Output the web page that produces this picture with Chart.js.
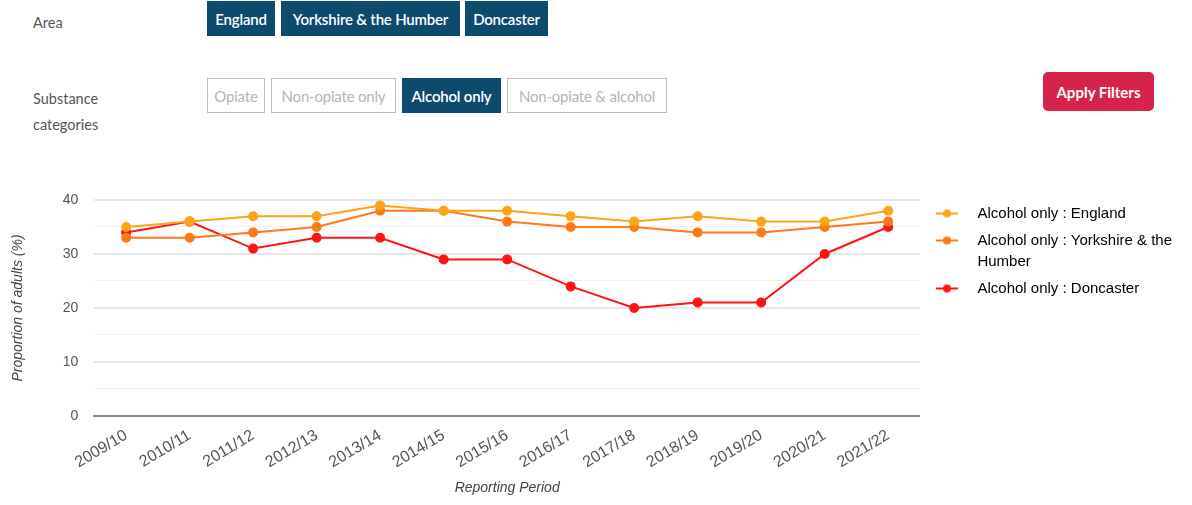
<!DOCTYPE html>
<html lang="en">
<head>
  <meta charset="UTF-8">
  <title>Alcohol only</title>
  <script src="https://cdn.jsdelivr.net/npm/chart.js"></script>
  <style>
    body { margin: 0; width: 1192px; height: 505px; overflow: hidden; background: #fff; font-family: Lato, "Open Sans", sans-serif; position: relative; }
    .lbl { position: absolute; left: 33px; color: #555; font-size: 14.5px; line-height: 26px; }
    .btn { position: absolute; height: 35px; box-sizing: border-box; font-size: 15px; display: flex; align-items: center; justify-content: center; letter-spacing: -0.2px; }
    .on { background: #0d4a6c; color: #fff; font-weight: 600; }
    .off { background: #fff; color: #b5b5b5; border: 1px solid #bdbdbd; }
    .apply { position: absolute; left: 1043px; top: 72px; width: 111px; height: 39px; background: #d6234b; color: #fff; border-radius: 5px; font-weight: 700; font-size: 15px; display: flex; align-items: center; justify-content: center; }
    #wrap { position: absolute; left: 0; top: 160px; width: 1205px; height: 345px; }
  </style>
</head>
<body>
  <!-- Filters -->
  <div class="lbl" style="top:10px">Area</div>
  <div class="btn on" style="left:207px;top:1px;width:68px">England</div>
  <div class="btn on" style="left:281px;top:1px;width:179px">Yorkshire &amp; the Humber</div>
  <div class="btn on" style="left:465px;top:1px;width:83px">Doncaster</div>

  <div class="lbl" style="top:86px">Substance<br>categories</div>
  <div class="btn off" style="left:207px;top:78px;width:58px">Opiate</div>
  <div class="btn off" style="left:271px;top:78px;width:125px">Non-opiate only</div>
  <div class="btn on" style="left:402px;top:78px;width:99px">Alcohol only</div>
  <div class="btn off" style="left:507px;top:78px;width:160px">Non-opiate &amp; alcohol</div>
  <div class="apply">Apply Filters</div>

  <div id="wrap"><canvas id="chart"></canvas></div>

  <script>
    const periods = ['2009/10', '2010/11', '2011/12', '2012/13', '2013/14', '2014/15', '2015/16',
      '2016/17', '2017/18', '2018/19', '2019/20', '2020/21', '2021/22'];
    const england = [35, 36, 37, 37, 39, 38, 38, 37, 36, 37, 36, 36, 38];
    const yorkshire = [33, 33, 34, 35, 38, 38, 36, 35, 35, 34, 34, 35, 36];
    const doncaster = [34, 36, 31, 33, 33, 29, 29, 24, 20, 21, 21, 30, 35];
    const seriesNames = ['Alcohol only : England', 'Alcohol only : Yorkshire & the Humber', 'Alcohol only : Doncaster'];
    const legendText = [['Alcohol only : England'], ['Alcohol only : Yorkshire & the', 'Humber'], ['Alcohol only : Doncaster']];
    const colors = ['#ffa319', '#ff7a17', '#ff1414'];

    // little line + dot icon for the legend (left margin keeps a gap from the plot)
    function legendIcon(color) {
      const c = document.createElement('canvas');
      c.width = 44; c.height = 12;
      const g = c.getContext('2d');
      g.strokeStyle = color; g.lineWidth = 2;
      g.beginPath(); g.moveTo(10, 6); g.lineTo(32, 6); g.stroke();
      g.fillStyle = color;
      g.beginPath(); g.arc(21, 6, 4, 0, Math.PI * 2); g.fill();
      return c;
    }

    const makeSet = (i, data) => ({
      label: seriesNames[i],
      data: data,
      borderColor: colors[i],
      backgroundColor: colors[i],
      borderWidth: 2,
      pointRadius: 4,
      pointHoverRadius: 5,
      tension: 0,
      fill: false,
    });

    Chart.defaults.font.family = '"Liberation Sans", Arial, sans-serif';

    new Chart(document.getElementById('chart'), {
      type: 'line',
      data: {
        labels: periods,
        datasets: [makeSet(0, england), makeSet(1, yorkshire), makeSet(2, doncaster)],
      },
      options: {
        responsive: true,
        maintainAspectRatio: false,
        animation: false,
        layout: { padding: { top: 40, left: 6, bottom: 8, right: 23 } },
        plugins: {
          tooltip: { enabled: false },
          legend: {
            position: 'right',
            align: 'start',
            labels: {
              usePointStyle: true,
              pointStyleWidth: 44,
              padding: 6,
              color: '#333',
              font: { size: 15, lineHeight: 1.4 },
              generateLabels: (chart) => chart.data.datasets.map((ds, i) => ({
                text: legendText[i],
                fillStyle: ds.borderColor,
                strokeStyle: ds.borderColor,
                pointStyle: legendIcon(ds.borderColor),
                lineWidth: 0,
                hidden: false,
                datasetIndex: i,
              })),
            },
          },
        },
        scales: {
          x: {
            offset: true,
            grid: { display: false },
            border: { color: '#888', width: 2 },
            ticks: { color: '#555', font: { size: 16 }, minRotation: 31, maxRotation: 31, padding: 2, autoSkip: false },
            title: { display: true, text: 'Reporting Period', color: '#444', font: { size: 14, style: 'italic' }, padding: { top: 6, bottom: 0 } },
          },
          y: {
            min: 0,
            max: 40,
            border: { display: false },
            grid: {
              drawTicks: false,
              color: (c) => (c.tick.value % 10 === 0 ? '#e6e6e6' : '#f0f0f0'),
              lineWidth: (c) => (c.tick.value % 10 === 0 ? 2 : 1),
            },
            ticks: {
              stepSize: 5,
              padding: 16,
              color: '#555',
              font: { size: 14 },
              callback: (v) => (v % 10 === 0 ? v : ''),
            },
            title: { display: true, text: 'Proportion of adults (%)', color: '#444', font: { size: 14, style: 'italic' }, padding: { bottom: 20 } },
          },
        },
      },
    });
  </script>
</body>
</html>
